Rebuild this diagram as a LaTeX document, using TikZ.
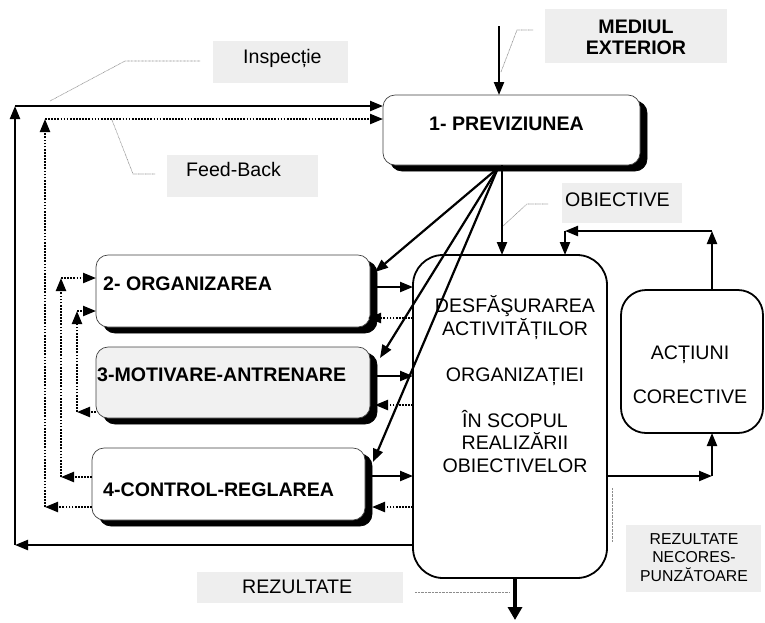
\documentclass[tikz,border=0pt]{standalone}
\usepackage{fontspec}
\setmainfont{Liberation Sans}
\usetikzlibrary{arrows.meta,calc}
\definecolor{lblgray}{RGB}{238,238,238}
\definecolor{boxgray}{RGB}{241,241,241}
\definecolor{callgray}{RGB}{140,140,140}
\begin{document}
\begin{tikzpicture}[x=1pt,y=-1pt,
  arr/.style={line width=2.2pt,-{Triangle[length=13pt,width=10pt]}},
  darr/.style={line width=2.2pt,dash pattern=on 1.7pt off 1.4pt,-{Triangle[length=13pt,width=10pt]}},
  bigarr/.style={line width=4.5pt,-{Triangle[length=13pt,width=14pt]}},
  callout/.style={draw=callgray,line width=0.6pt,dash pattern=on 0.8pt off 0.6pt},
  lbl/.style={fill=lblgray,inner sep=0pt,outer sep=0pt,anchor=north west},
  fbox/.style={draw=black!75,line width=0.7pt,rounded corners=12pt,fill=white,inner sep=0pt,outer sep=0pt,anchor=north west,
    preaction={fill=black,draw=black,transform canvas={xshift=7pt,yshift=-6pt}}},
  bigbox/.style={draw=black,line width=1.8pt,fill=white,inner sep=0pt,outer sep=0pt,anchor=north west},
  txt/.style={inner sep=0pt,font=\fontsize{19.6}{22.5}\selectfont},
  btxt/.style={inner sep=0pt,font=\fontsize{19.6}{21}\selectfont\bfseries},
  stxt/.style={inner sep=0pt,font=\fontsize{15.8}{18.5}\selectfont},
]
\useasboundingbox (0,0) rectangle (765,622);

% gray label boxes
\node[lbl,minimum width=182pt,minimum height=54pt] (envbox) at (545,9) {};
\node[lbl,minimum width=135pt,minimum height=42pt] (inspbox) at (213,41) {};
\node[lbl,minimum width=151pt,minimum height=42pt] (fbbox) at (167,155) {};
\node[lbl,minimum width=120pt,minimum height=40pt] (objbox) at (562,183) {};
\node[lbl,minimum width=206pt,minimum height=31pt] (rezbox) at (197,572) {};
\node[lbl,minimum width=135pt,minimum height=67pt] (ncbox) at (626,525) {};

\node[btxt,align=center,anchor=base] (envtxt) at (636,54) {MEDIUL\\EXTERIOR};
\node[txt,anchor=base west] (insptxt) at (243,63) {Inspecție};
\node[txt,anchor=base west] (fbtxt) at (186,176) {Feed-Back};
\node[txt,anchor=base west] (objtxt) at (565,206) {OBIECTIVE};
\node[txt,anchor=base west] (reztxt) at (242,593) {REZULTATE};
\node[stxt,align=center,anchor=base] (nctxt) at (694,581) {REZULTATE\\NECORES-\\PUNZĂTOARE};

% callouts
\draw[callout] (501,72) -- (517,30) -- (533,30);
\draw[callout] (50,101) -- (125,61) -- (200,61);
\draw[callout] (112,120) -- (133,174) -- (155,174);
\draw[callout] (503,226) -- (527,204) -- (548,204);
\draw[callout] (612,488) -- (612,542);
\draw[callout] (415,592) -- (510,592);

% main boxes
\node[fbox,minimum width=257pt,minimum height=70pt] (prev) at (383,95) {};
\node[fbox,minimum width=274pt,minimum height=72pt] (org) at (96,255) {};
\node[fbox,fill=boxgray,minimum width=274pt,minimum height=71pt] (mot) at (96,347) {};
\node[fbox,minimum width=273pt,minimum height=72pt] (ctrl) at (92,448) {};
\node[bigbox,rounded corners=30pt,minimum width=194pt,minimum height=323pt] (act) at (413,255) {};
\node[bigbox,rounded corners=25pt,minimum width=142pt,minimum height=143pt] (corr) at (621,290) {};

\node[btxt,anchor=base west] (prevt) at (429,130) {1- PREVIZIUNEA};
\node[btxt,anchor=base west] (orgt) at (103,290) {2- ORGANIZAREA};
\node[btxt,anchor=base west] (mott) at (97,381) {3-MOTIVARE-ANTRENARE};
\node[btxt,anchor=base west] (ctrlt) at (103,496) {4-CONTROL-REGLAREA};
\node[txt,align=center,anchor=base] (actt) at (515,472) {DESFĂŞURAREA\\ACTIVITĂȚILOR\\[23.5pt]ORGANIZAȚIEI\\[23.5pt]ÎN SCOPUL\\REALIZĂRII\\OBIECTIVELOR};
\node[txt,align=center,anchor=base] (corrt) at (690,403) {ACȚIUNI\\[21.5pt]CORECTIVE};

% environment arrow
\coordinate (envsrc) at (499,26);
\draw[arr] (envsrc) -- (envsrc |- prev.north);

% outer solid loop
\coordinate (oA) at (15,545);
\coordinate (oB) at (15,106);
\draw[arr] (act.west |- oA) -- (oA);
\draw[arr] (oA) -- (oB);
\draw[arr] (oB) -- (prev.west |- oB);

% dotted loops
\coordinate (d1A) at (45,507); \coordinate (d1B) at (45,119);
\draw[darr] (ctrl.west |- d1A) -- (d1A);
\draw[darr] (d1A) -- (d1B);
\draw[darr] (d1B) -- (prev.west |- d1B);

\coordinate (d2A) at (61,477); \coordinate (d2B) at (61,278);
\draw[darr] (ctrl.west |- d2A) -- (d2A);
\draw[darr] (d2A) -- (d2B);
\draw[darr] (d2B) -- (org.west |- d2B);

\coordinate (d3A) at (77,412); \coordinate (d3B) at (77,311);
\draw[darr] (mot.west |- d3A) -- (d3A);
\draw[darr] (d3A) -- (d3B);
\draw[darr] (d3B) -- (org.west |- d3B);

% fan from prevision
\coordinate (apex) at (498,168);
\draw[arr] (apex) -- ($(org.north east)+(5,17)$);
\draw[arr] (apex) -- ($(mot.north east)+(10,11)$);
\draw[arr] (apex) -- ($(ctrl.north east)+(8,14)$);
\coordinate (objx) at (502,0);
\draw[arr] (prev.south -| objx) -- (act.north -| objx);

% boxes <-> central
\coordinate (s2) at ($(org.east)+(7,-4)$);
\coordinate (t2) at ($(org.east)+(-2,27)$);
\coordinate (s3) at ($(mot.east)+(7,-6.5)$);
\coordinate (t3) at ($(mot.east)+(5,22.5)$);
\coordinate (s4) at ($(ctrl.east)+(7,-8)$);
\coordinate (t4) at ($(ctrl.east)+(7,23)$);
\draw[arr] (s2) -- (act.west |- s2);
\draw[darr] (act.west |- t2) -- (t2);
\draw[arr] (s3) -- (act.west |- s3);
\draw[darr] (act.west |- t3) -- (t3);
\draw[arr] (s4) -- (act.west |- s4);
\draw[darr] (act.west |- t4) -- (t4);

% corrective loop
\coordinate (cr) at (712,476);
\draw[arr] (act.east |- cr) -- (cr);
\draw[arr] (cr) -- (cr |- corr.south);
\coordinate (ct) at (712,231);
\coordinate (cl) at (565,231);
\draw[arr] (ct |- corr.north) -- (ct);
\draw[arr] (ct) -- (cl);
\draw[arr] (cl) -- (cl |- act.north);

% results
\coordinate (outp) at (515,620);
\draw[bigarr] (outp |- act.south) -- (outp);
\end{tikzpicture}
\end{document}
